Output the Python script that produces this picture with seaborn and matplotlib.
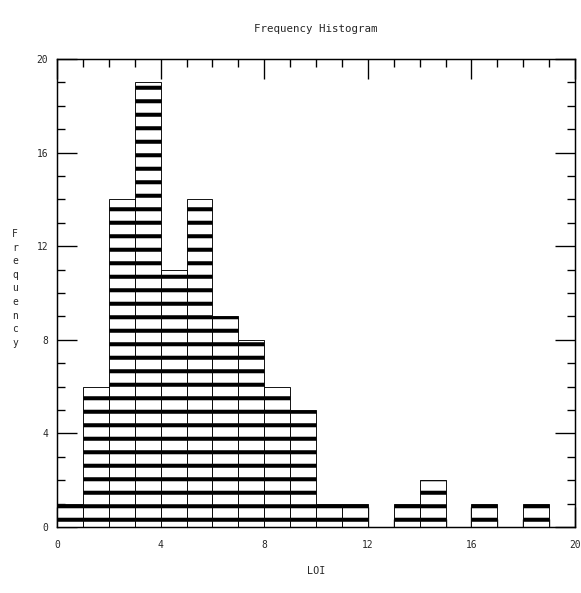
import numpy as np
import pandas as pd
import matplotlib
matplotlib.use("Agg")
import matplotlib.pyplot as plt
import seaborn as sns
from matplotlib.ticker import MultipleLocator

# Data (bin width 1, LOI 0..20)
bin_left = list(range(0, 20))
counts = [1, 6, 14, 19, 11, 14, 9, 8, 6, 5, 1, 1, 0, 1, 2, 0, 1, 0, 1, 0]
x_ticks = [0, 4, 8, 12, 16, 20]
y_ticks = [0, 4, 8, 12, 16, 20]
title = "Frequency Histogram"
xlabel = "LOI"
ylabel = "Frequency"

df = pd.DataFrame({"LOI": [b + 0.5 for b in bin_left], "count": counts})

sns.set_style("ticks")
plt.rcParams["font.family"] = ["DejaVu Sans Mono", "DejaVu Sans"]
plt.rcParams["hatch.linewidth"] = 3.6
plt.rcParams["hatch.color"] = "black"

DPI = 81
fig = plt.figure(figsize=(581 / DPI, 593 / DPI), dpi=DPI)
ax = fig.add_axes([57 / 581, 1 - 527 / 593, 518 / 581, (527 - 59) / 593])

sns.histplot(data=df, x="LOI", weights="count", binwidth=1, binrange=(0, 20),
             ax=ax, color="white", edgecolor="black", linewidth=0.8,
             hatch="-", alpha=1.0)

ax.set_xlim(0, 20)
ax.set_ylim(0, 20)
ax.set_xticks(x_ticks)
ax.set_yticks(y_ticks)
ax.set_xticklabels([str(t) for t in x_ticks])
ax.set_yticklabels([str(t) for t in y_ticks])
ax.xaxis.set_minor_locator(MultipleLocator(1))
ax.yaxis.set_minor_locator(MultipleLocator(1))
ax.tick_params(which="both", direction="in", top=True, right=True,
               color="black", width=1.2)
ax.tick_params(which="major", length=18)
ax.tick_params(which="minor", length=7.5)
ax.tick_params(axis="x", which="major", pad=12, labelsize=8.5)
ax.tick_params(axis="y", which="major", pad=8, labelsize=8.5)
for s in ax.spines.values():
    s.set_visible(True)
    s.set_color("black")
    s.set_linewidth(1.3)

ax.set_title(title, fontsize=9.5, pad=24)
ax.set_xlabel(xlabel, fontsize=9, labelpad=14)
ax.set_ylabel("\n".join(ylabel), rotation=0, fontsize=8.5,
              va="center", ha="center", linespacing=1.45)
ax.yaxis.set_label_coords(-0.081, 0.51)

fig.savefig("out.png", dpi=DPI)
